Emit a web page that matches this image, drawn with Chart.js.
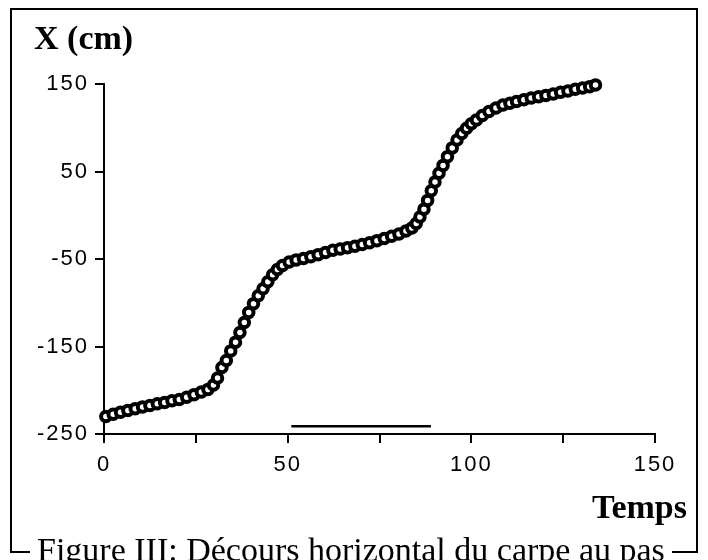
<!DOCTYPE html>
<html>
<head>
<meta charset="utf-8">
<script src="https://cdn.jsdelivr.net/npm/chart.js@4"></script>
<style>
  html, body { margin: 0; padding: 0; background: #fff; }
  #wrap { width: 708px; height: 560px; position: relative; }
</style>
</head>
<body>
<div id="wrap"><canvas id="c" width="708" height="560"></canvas></div>
<script>
// ---- data ----
const timeValues = [
  0.5, 2.5, 4.5, 6.5, 8.5, 10.5, 12.5, 14.5, 16.5, 18.5, 20.5, 22.5, 24.5, 26.5, 28.3, 29.8,
  30.9, 32.1, 33.3, 34.5, 35.8, 37.0, 38.2, 39.4, 40.7, 42.0, 43.3, 44.6, 45.9, 47.2, 48.6,
  50.4, 52.3,
  54.3, 56.3, 58.3, 60.3, 62.3, 64.3, 66.3, 68.3, 70.3, 72.3, 74.3, 76.3, 78.3, 80.3,
  82.2, 83.8, 85.0,
  86.0, 87.1, 88.1, 89.1, 90.1, 91.2, 92.3, 93.5, 94.8, 96.1, 97.4, 98.7, 100.0, 101.4,
  103.0, 104.8, 106.7, 108.6, 110.5,
  112.3, 114.3, 116.3, 118.3, 120.3, 122.3, 124.3, 126.3, 128.3, 130.3, 132.2, 133.8];
const xValues = [
  -230, -227.5, -225, -223, -221, -219, -217.5, -215.5, -214, -212, -210.5, -208, -205, -202, -199, -194,
  -186, -174, -166, -155, -145, -134, -122.5, -111, -101, -92, -84, -76, -68, -62, -57.5,
  -53.5, -51,
  -49.5, -47.5, -45, -42.5, -40, -38.5, -37, -35.5, -33.5, -31.5, -29, -26.5, -24, -21.5,
  -18, -14.5, -9.5,
  -2, 7, 17, 28, 38, 48, 57, 67, 77, 86, 93.5, 99.5, 104.5, 109,
  114, 118.5, 122.5, 126, 128,
  130, 132, 134, 135.5, 137, 138.5, 140.5, 142, 144, 145.5, 147, 149];
const barTimes = [51, 89];      // horizontal bar under the curve
const barLevel = -241;
const yTicks = [-250, -150, -50, 50, 150];
const xTicks = [0, 50, 100, 150];
const yTitle = 'X (cm)';
const xTitle = 'Temps';
const caption = 'Figure III: Décours horizontal du carpe au pas';

const points = timeValues.map((t, i) => ({ x: t, y: xValues[i] }));
const barData = barTimes.map(t => ({ x: t, y: barLevel }));

const tickFont = { family: '"Liberation Sans", Arial, sans-serif', size: 22 };

const decor = {
  id: 'decor',
  beforeDraw(chart) {
    chart.ctx.letterSpacing = '2px';
  },
  afterDraw(chart) {
    const ctx = chart.ctx;
    ctx.save();
    ctx.letterSpacing = '0px';
    ctx.strokeStyle = '#000';
    ctx.lineWidth = 2;
    ctx.beginPath();
    ctx.moveTo(30, 552); ctx.lineTo(11, 552); ctx.lineTo(11, 9);
    ctx.lineTo(697, 9); ctx.lineTo(697, 552); ctx.lineTo(672, 552);
    ctx.stroke();
    ctx.fillStyle = '#000';
    ctx.textBaseline = 'alphabetic';
    ctx.font = 'bold 34px "Liberation Serif", "Times New Roman", serif';
    ctx.textAlign = 'left';
    ctx.fillText(yTitle, 34, 49);
    ctx.textAlign = 'right';
    ctx.fillText(xTitle, 687, 518);
    ctx.font = '34px "Liberation Serif", "Times New Roman", serif';
    ctx.textAlign = 'left';
    ctx.fillText(caption, 37, 561);
    ctx.restore();
  }
};

new Chart(document.getElementById('c'), {
  type: 'line',
  data: {
    datasets: [
      {
        data: barData,
        borderColor: '#000',
        borderWidth: 2.5,
        pointRadius: 0,
        showLine: true,
        fill: false
      },
      {
        data: points,
        showLine: false,
        clip: false,
        pointRadius: 4.75,
        pointBorderWidth: 4,
        pointBackgroundColor: '#fff',
        pointBorderColor: '#000',
        pointHoverRadius: 4.75
      }
    ]
  },
  options: {
    responsive: false,
    animation: false,
    events: [],
    layout: { padding: { left: 0, right: 53, top: 84, bottom: 86 } },
    plugins: { legend: { display: false }, tooltip: { enabled: false }, title: { display: false } },
    scales: {
      x: {
        type: 'linear',
        min: 0, max: 150,
        afterFit(s) { s.height = 40; },
        afterBuildTicks(s) { s.ticks = [0, 25, 50, 75, 100, 125, 150].map(v => ({ value: v })); },
        ticks: {
          autoSkip: false,
          maxRotation: 0,
          color: '#000',
          font: tickFont,
          padding: 9,
          callback: v => xTicks.includes(v) ? String(v) : ''
        },
        grid: { display: true, drawOnChartArea: false, drawTicks: true, tickLength: 9, color: '#000', lineWidth: 2 },
        border: { display: true, color: '#000', width: 2 }
      },
      y: {
        type: 'linear',
        min: -250, max: 150,
        afterFit(s) { s.width = 104; },
        afterBuildTicks(s) { s.ticks = yTicks.map(v => ({ value: v })); },
        ticks: { color: '#000', font: tickFont, padding: 6 },
        grid: { display: true, drawOnChartArea: false, drawTicks: true, tickLength: 9, color: '#000', lineWidth: 2 },
        border: { display: true, color: '#000', width: 2 }
      }
    }
  },
  plugins: [decor]
});
</script>
</body>
</html>
